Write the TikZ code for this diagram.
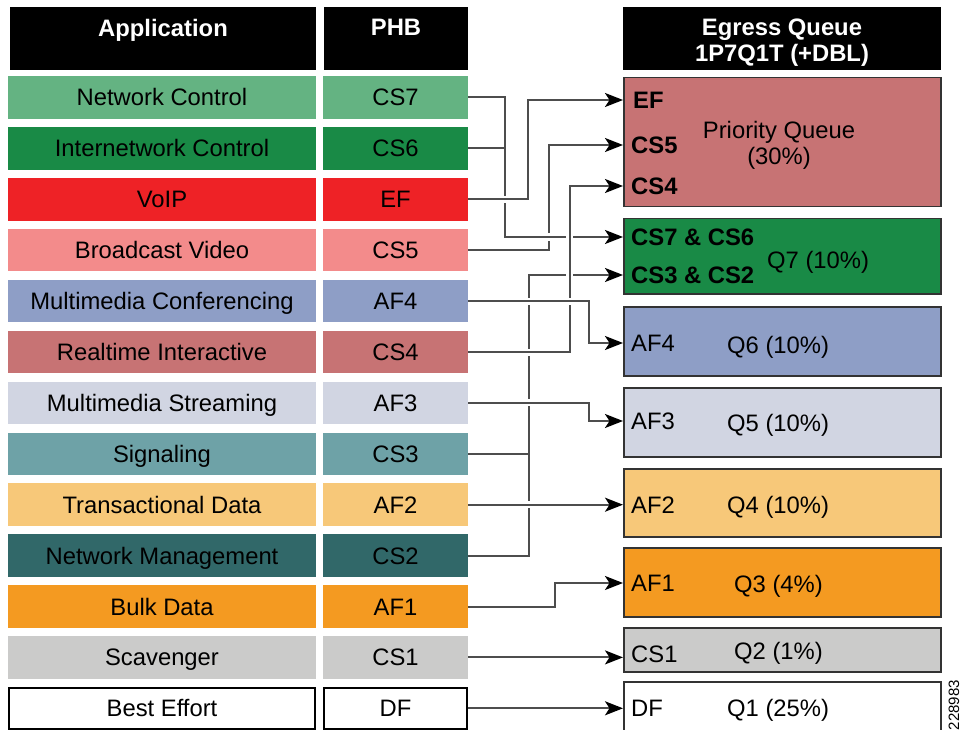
\documentclass[tikz,border=0pt]{standalone}
\usepackage{fontspec}
\setmainfont{Liberation Sans}
\usetikzlibrary{arrows.meta,positioning,backgrounds}
\definecolor{cNC}{HTML}{64B382}
\definecolor{cIC}{HTML}{198A46}
\definecolor{cVoIP}{HTML}{EE2226}
\definecolor{cBV}{HTML}{F38B8B}
\definecolor{cMC}{HTML}{8E9EC6}
\definecolor{cRI}{HTML}{C77374}
\definecolor{cMS}{HTML}{D1D5E2}
\definecolor{cSig}{HTML}{6EA2A7}
\definecolor{cTD}{HTML}{F7C879}
\definecolor{cNM}{HTML}{316869}
\definecolor{cBulk}{HTML}{F49A21}
\definecolor{cScav}{HTML}{CBCBCA}
\definecolor{lineGray}{HTML}{4D4D4D}
\definecolor{edgeGray}{HTML}{333333}

\begin{document}
\begin{tikzpicture}[
    x=1pt, y=-1pt,
    every node/.style={font=\fontsize{23.8}{26}\selectfont,text height=17pt,text depth=0pt},
    headbox/.style={rectangle,fill=black,inner sep=0pt,minimum height=63pt},
    headtxt/.style={text=white,font=\fontsize{23.8}{26}\selectfont\bfseries,
                    align=center,inner sep=0pt,anchor=north,text height=,text depth=},
    appbox/.style={rectangle,inner sep=0pt,minimum width=306pt,
                   minimum height=41pt,line width=1.5pt},
    phbbox/.style={appbox,minimum width=143pt},
    queue/.style={rectangle,draw=edgeGray,line width=1.5pt,inner sep=0pt,
                  minimum width=317pt,anchor=north west},
    qlab/.style={anchor=west,inner sep=0pt},
    qbold/.style={qlab,font=\fontsize{23.8}{26}\selectfont\bfseries},
    wire/.style={line width=2pt,lineGray},
    link/.style={wire,-{Stealth[length=18pt,width=14pt,inset=4.5pt,color=black]}},
    over/.style={preaction={draw=white,line width=7pt,arrows=-}}
  ]
  \useasboundingbox (0,0) rectangle (961,730);

  % headers
  \node[headbox,minimum width=306pt] (h-app) at (163,38.5) {};
  \node[headtxt] at ([yshift=-12pt]h-app.north) {Application};
  \node[headbox,minimum width=144pt] (h-phb) at (396,38.5) {};
  \node[headtxt] at ([yshift=-12pt]h-phb.north) {PHB};
  \node[headbox,minimum width=318pt] (h-egress) at (782,38.5) {};
  \node[headtxt] at ([yshift=-12pt]h-egress.north) {Egress Queue\\1P7Q1T (+DBL)};

  % application / PHB rows
  \foreach \n/\app/\phb/\col/\bd [count=\i from 0] in {
      nc/Network Control/CS7/cNC/cNC,
      ic/Internetwork Control/CS6/cIC/cIC,
      voip/VoIP/EF/cVoIP/cVoIP,
      bv/Broadcast Video/CS5/cBV/cBV,
      mc/Multimedia Conferencing/AF4/cMC/cMC,
      ri/Realtime Interactive/CS4/cRI/cRI,
      ms/Multimedia Streaming/AF3/cMS/cMS,
      sig/Signaling/CS3/cSig/cSig,
      td/Transactional Data/AF2/cTD/cTD,
      nm/Network Management/CS2/cNM/cNM,
      bulk/Bulk Data/AF1/cBulk/cBulk,
      scav/Scavenger/CS1/cScav/cScav,
      be/Best Effort/DF/white/black}
  {
    \node[appbox,fill=\col,draw=\bd] (app-\n) at (162,97.5+50.9*\i) {\app};
    \node[phbbox,fill=\col,draw=\bd] (phb-\n) at (395.5,97.5+50.9*\i) {\phb};
  }

  % egress queues
  \node[queue,fill=cRI,minimum height=129pt] (pq) at (623,77) {};
  \node[queue,fill=cIC,minimum height=75pt] (q7) at (623,218) {};
  \node[queue,fill=cMC,minimum height=69pt] (q6) at (623,306) {};
  \node[queue,fill=cMS,minimum height=69pt] (q5) at (623,387) {};
  \node[queue,fill=cTD,minimum height=68pt] (q4) at (623,468) {};
  \node[queue,fill=cBulk,minimum height=69pt] (q3) at (623,547) {};
  \node[queue,fill=cScav,minimum height=44pt] (q2) at (623,627) {};
  \node[queue,fill=white,minimum height=60pt] (q1) at (623,681) {};

  \node[qbold] (q-ef)   at (633,100) {EF};
  \node[qbold] (q-cs5)  at (631,145) {CS5};
  \node[qbold] (q-cs4)  at (631,186) {CS4};
  \node[qbold] (q-cs76) at (631,237) {CS7 \& CS6};
  \node[qbold] (q-cs32) at (631,275) {CS3 \& CS2};
  \node[qlab]  (q-af4)  at (631,343) {AF4};
  \node[qlab]  (q-af3)  at (631,421) {AF3};
  \node[qlab]  (q-af2)  at (631,505) {AF2};
  \node[qlab]  (q-af1)  at (631,583) {AF1};
  \node[qlab]  (q-cs1)  at (631,654) {CS1};
  \node[qlab]  (q-df)   at (631,708) {DF};

  \node[align=center,inner sep=0pt,text height=,text depth=] (pq-name) at (779,145) {Priority Queue\\(30\%)};
  \node[qlab] (q7-name) at (767,260) {Q7 (10\%)};
  \node[qlab] (q6-name) at (727,345) {Q6 (10\%)};
  \node[qlab] (q5-name) at (727,423) {Q5 (10\%)};
  \node[qlab] (q4-name) at (727,505) {Q4 (10\%)};
  \node[qlab] (q3-name) at (734,584) {Q3 (4\%)};
  \node[qlab] (q2-name) at (734,651) {Q2 (1\%)};
  \node[qlab] (q1-name) at (727,708) {Q1 (25\%)};

  \node[font=\fontsize{15}{15}\selectfont,rotate=90,inner sep=0pt,text height=,text depth=] (fig-id) at (954,705) {228983};

  % mapping, drawn under the boxes; later wires cut a gap in earlier ones
  \begin{pgfonlayer}{background}
    \draw[link] (phb-nm.east) -- ++(61,0) |- (q7.west |- q-cs32);
    \draw[wire] (phb-sig.east) -- ++(61,0);
    \draw[link] (phb-bv.east) -- ++(81,0) |- (pq.west |- q-cs5);
    \draw[link,over] (phb-nc.east) -- ++(37,0) |- (q7.west |- q-cs76);
    \draw[wire] (phb-ic.east) -- ++(37,0);
    \draw[link,over] (phb-voip.east) -- ++(60,0) |- (pq.west |- q-ef);
    \draw[link,over] (phb-ri.east) -- ++(102,0) |- (pq.west |- q-cs4);
    \draw[link,over] (phb-mc.east) -- ++(121,0) |- (q6.west |- q-af4);
    \draw[link,over] (phb-ms.east) -- ++(121,0) |- (q5.west |- q-af3);
    \draw[link,over] (phb-td.east) -- (phb-td.east -| q4.west);
    \draw[link] (phb-bulk.east) -- ++(87,0) |- (q3.west |- q-af1);
    \draw[link] (phb-scav.east) -- (phb-scav.east -| q2.west);
    \draw[link] (phb-be.east) -- (phb-be.east -| q1.west);
  \end{pgfonlayer}
\end{tikzpicture}
\end{document}
